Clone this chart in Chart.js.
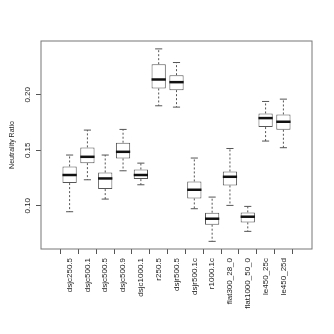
<!DOCTYPE html>
<html>
<head>
<meta charset="utf-8">
<script src="https://cdn.jsdelivr.net/npm/chart.js@4"></script>
<style>
  html, body { margin: 0; padding: 0; background: #fff; }
  #wrap { width: 334px; height: 334px; }
</style>
</head>
<body>
<div id="wrap"><canvas id="ratio-chart"></canvas></div>
<script>
const labels = [
  "dsjc250.5", "dsjc500.1", "dsjc500.5", "dsjc500.9", "dsjc1000.1",
  "r250.5", "dsjr500.5", "dsjr500.1c", "r1000.1c",
  "flat300_28_0", "flat1000_50_0", "le450_25c", "le450_25d",
];
const lowWhisker    = [0.0946, 0.1234, 0.1060, 0.1315, 0.1189, 0.1901, 0.1889, 0.0973, 0.0679, 0.1003, 0.0769, 0.1583, 0.1523];
const lowerQuartile = [0.1204, 0.1384, 0.1150, 0.1426, 0.1240, 0.2057, 0.2042, 0.1066, 0.0829, 0.1183, 0.0850, 0.1709, 0.1685];
const medians       = [0.1277, 0.1441, 0.1246, 0.1486, 0.1277, 0.2138, 0.2114, 0.1144, 0.0883, 0.1261, 0.0901, 0.1790, 0.1757];
const upperQuartile = [0.1354, 0.1526, 0.1300, 0.1568, 0.1327, 0.2276, 0.2177, 0.1219, 0.0937, 0.1309, 0.0940, 0.1832, 0.1823];
const highWhisker   = [0.1457, 0.1682, 0.1457, 0.1688, 0.1384, 0.2414, 0.2291, 0.1430, 0.1078, 0.1516, 0.0994, 0.1940, 0.1961];
const yTicks = [0.10, 0.15, 0.20];

const font = "'Liberation Sans', Arial, sans-serif";

// whiskers, staples, medians and the frame round the plot
const boxExtras = {
  id: "boxExtras",
  afterDatasetsDraw(chart) {
    const { ctx, chartArea, scales } = chart;
    const xs = scales.x;
    const ys = scales.y;
    const staple = xs.getPixelForValue(1.2) - xs.getPixelForValue(1);
    const half = xs.getPixelForValue(1.4) - xs.getPixelForValue(1);
    ctx.save();
    labels.forEach((name, i) => {
      const x = xs.getPixelForValue(i + 1);
      const lo = ys.getPixelForValue(lowWhisker[i]);
      const q1 = ys.getPixelForValue(lowerQuartile[i]);
      const q3 = ys.getPixelForValue(upperQuartile[i]);
      const hi = ys.getPixelForValue(highWhisker[i]);
      const md = ys.getPixelForValue(medians[i]);

      ctx.strokeStyle = "#555";
      ctx.lineWidth = 1;
      ctx.setLineDash([2, 2]);
      ctx.beginPath();
      ctx.moveTo(x, q3); ctx.lineTo(x, hi);
      ctx.moveTo(x, q1); ctx.lineTo(x, lo);
      ctx.stroke();

      ctx.setLineDash([]);
      ctx.beginPath();
      ctx.moveTo(x - staple, hi); ctx.lineTo(x + staple, hi);
      ctx.moveTo(x - staple, lo); ctx.lineTo(x + staple, lo);
      ctx.stroke();

      ctx.strokeStyle = "#111";
      ctx.lineWidth = 2.5;
      ctx.beginPath();
      ctx.moveTo(x - half, md); ctx.lineTo(x + half, md);
      ctx.stroke();
    });
    ctx.strokeStyle = "#777";
    ctx.lineWidth = 1;
    ctx.strokeRect(chartArea.left, chartArea.top,
      chartArea.right - chartArea.left, chartArea.bottom - chartArea.top);
    ctx.restore();
  },
};

const ratioChart = new Chart(document.getElementById("ratio-chart"), {
  type: "bar",
  data: {
    datasets: [
      {
        data: labels.map((name, i) => ({ x: i + 1, y: [lowerQuartile[i], upperQuartile[i]] })),
        backgroundColor: "#fff",
        borderColor: "#555",
        borderWidth: 1,
        borderSkipped: false,
        barPercentage: 0.8,
        categoryPercentage: 1,
      },
    ],
  },
  options: {
    responsive: true,
    maintainAspectRatio: false,
    animation: false,
    layout: { padding: { top: 41, right: 22, left: 6, bottom: 0 } },
    plugins: {
      legend: { display: false },
      tooltip: { enabled: false },
    },
    scales: {
      x: {
        type: "linear",
        min: -0.02,
        max: 14.02,
        afterBuildTicks: (scale) => {
          scale.ticks = labels.map((name, i) => ({ value: i + 1 }));
        },
        afterFit: (scale) => { scale.height = 85; },
        border: { display: false },
        grid: { drawOnChartArea: false, tickLength: 5, color: "#555" },
        ticks: {
          autoSkip: false,
          minRotation: 90,
          maxRotation: 90,
          padding: 4,
          color: "#222",
          font: { family: font, size: 8 },
          callback: (v) => labels[v - 1],
        },
      },
      y: {
        min: 0.061,
        max: 0.2485,
        afterBuildTicks: (scale) => {
          scale.ticks = yTicks.map((v) => ({ value: v }));
        },
        afterFit: (scale) => { scale.width = 35; },
        border: { display: false },
        grid: { drawOnChartArea: false, tickLength: 5, color: "#555" },
        ticks: {
          minRotation: 90,
          maxRotation: 90,
          crossAlign: "center",
          padding: 0,
          color: "#222",
          font: { family: font, size: 8 },
          callback: (v) => v.toFixed(2),
        },
        title: {
          display: true,
          text: "Neutrality Ratio",
          color: "#222",
          font: { family: font, size: 7 },
          padding: { top: 2, bottom: 0 },
        },
      },
    },
  },
  plugins: [boxExtras],
});
</script>
</body>
</html>
